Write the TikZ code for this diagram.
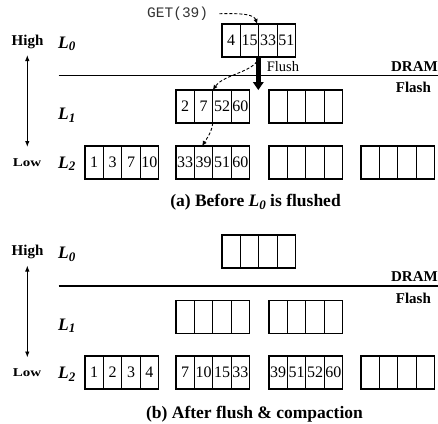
\documentclass[tikz,border=0pt]{standalone}
\usepackage{fontspec}
\setmainfont{Liberation Serif}
\setmonofont{Liberation Mono}
\usetikzlibrary{arrows.meta}
\newcommand\fsz[1]{\fontsize{#1}{#1}\selectfont}
\newcommand\Lsub[1]{\textbf{\textit{L\raisebox{-2.5pt}{\fsz{13}#1}}}}
\tikzset{
  cell/.style={draw, line width=0.9pt, minimum width=18.4pt, minimum height=33pt,
    inner sep=0pt, outer sep=0pt, font=\fsz{16}},
  boxframe/.style={draw, line width=1.6pt},
  lvl/.style={anchor=base west, inner sep=0pt, font=\fsz{17.5}},
  side/.style={anchor=base, inner sep=0pt, font=\bfseries\fsz{15}},
  sep/.style={line width=1.4pt},
  updown/.style={line width=0.9pt, {Latex[length=6pt,width=4.5pt]}-{Latex[length=6pt,width=4.5pt]}},
  dashedarrow/.style={dash pattern=on 3pt off 2pt, line width=0.9pt, -{Latex[length=5pt,width=4.5pt]}},
  caption/.style={anchor=base, inner sep=0pt, font=\bfseries\fsz{17.5}},
}
% #1 name, #2 left x, #3 top y, #4-#7 cell texts
\newcommand\memrow[7]{%
  \node[cell] (#1-1) at (#2+9.2,#3+16.5) {#4};
  \node[cell] (#1-2) at (#2+27.6,#3+16.5) {#5};
  \node[cell] (#1-3) at (#2+46,#3+16.5) {#6};
  \node[cell] (#1-4) at (#2+64.4,#3+16.5) {#7};
  \draw[boxframe] (#1-1.north west) rectangle (#1-4.south east);
}
\begin{document}
\begin{tikzpicture}[x=1pt, y=-1pt]
\useasboundingbox (0,0) rectangle (438,423);

% ---------- panel (a) ----------
\memrow{a0}{222}{24}{4}{15}{33}{51}
\memrow{a1a}{176}{90}{2}{7}{52}{60}
\memrow{a1b}{269}{90}{}{}{}{}
\memrow{a2a}{85}{146}{1}{3}{7}{10}
\memrow{a2b}{176}{146}{33}{39}{51}{60}
\memrow{a2c}{269}{146}{}{}{}{}
\memrow{a2d}{361}{146}{}{}{}{}

\node[side] (hiA) at (27.5,45) {High};
\node[side] (loA) at (27,166) {\fsz{12}\scalebox{1.25}[1]{Low}};
\coordinate (upA) at (27.3,55);
\coordinate (dnA) at (27.3,147);
\draw[updown] (upA) -- (dnA);

\node[lvl] (lA0) at (58,48) {\Lsub{0}};
\node[lvl] (lA1) at (58,119.5) {\Lsub{1}};
\node[lvl] (lA2) at (58,168) {\Lsub{2}};

\coordinate (sepAl) at (58.7,75.5);
\coordinate (sepAr) at (438,75.5);
\draw[sep] (sepAl) -- (sepAr);
\node[side, anchor=base east] (dramA) at (438,71) {DRAM};
\node[side, anchor=base west] (flashA) at (395.7,92.7) {Flash};

\node[anchor=base west, inner sep=0pt, font=\ttfamily\fsz{14.5}, text=black!80] (get) at (147,17.5) {GET(39)};
\draw[dashedarrow] ([xshift=11pt]get.east) .. controls (245,13) and (254,15) .. ([xshift=-1.5pt]a0-3.north west);

\draw[line width=4.5pt, -{Triangle[length=8pt,width=11pt,line width=0pt]}] ([xshift=-0.5pt]a0-3.south west) -- ([xshift=-0.5pt]a0-3.south west |- a1b-1.north west);
\node[anchor=base west, inner sep=0pt, font=\fsz{14.5}] (flush) at (266.7,71.7) {Flush};

\draw[dashedarrow] (a0-3.south west) .. controls (256,72) and (224,74) .. (a1a-3.north west);
\draw[dashedarrow] (a1a-3.south west) .. controls (211,132) .. ([xshift=-1.5pt]a2b-2.north);

\node[caption] (capA) at (255.5,206.5) {(a) Before \Lsub{0} is flushed};

% ---------- panel (b) ----------
\memrow{b0}{222}{235}{}{}{}{}
\memrow{b1a}{176}{300.5}{}{}{}{}
\memrow{b1b}{269}{300.5}{}{}{}{}
\memrow{b2a}{85}{356}{1}{2}{3}{4}
\memrow{b2b}{176}{356}{7}{10}{15}{33}
\memrow{b2c}{269}{356}{39}{51}{52}{60}
\memrow{b2d}{361}{356}{}{}{}{}

\node[side] (hiB) at (27.5,255.5) {High};
\node[side] (loB) at (27,376.5) {\fsz{12}\scalebox{1.25}[1]{Low}};
\coordinate (upB) at (27.3,265.5);
\coordinate (dnB) at (27.3,357.5);
\draw[updown] (upB) -- (dnB);

\node[lvl] (lB0) at (58,258.5) {\Lsub{0}};
\node[lvl] (lB1) at (58,330) {\Lsub{1}};
\node[lvl] (lB2) at (58,378.5) {\Lsub{2}};

\coordinate (sepBl) at (58.7,286);
\coordinate (sepBr) at (438,286);
\draw[sep] (sepBl) -- (sepBr);
\node[side, anchor=base east] (dramB) at (438,281.5) {DRAM};
\node[side, anchor=base west] (flashB) at (395.7,303.2) {Flash};

\node[caption] (capB) at (254.5,418) {(b) After flush \& compaction};
\end{tikzpicture}
\end{document}
